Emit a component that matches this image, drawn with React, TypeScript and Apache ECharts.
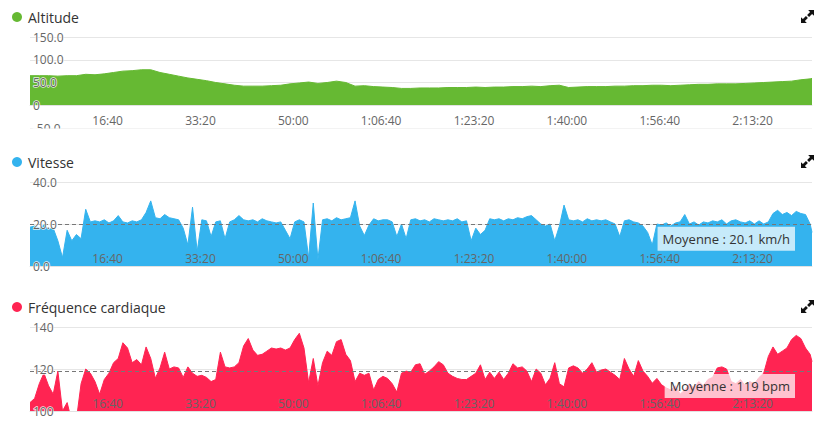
import React, { useEffect, useRef } from "react";
import * as echarts from "echarts";

// ---------- data ----------
const xMax = 8420; // seconds
const timeTickLabels = ["16:40", "33:20", "50:00", "1:06:40", "1:23:20", "1:40:00", "1:56:40", "2:13:20"];

const altitudeTickValues = [-50, 0, 50, 100, 150];
const altitudeTickLabels = ["-50.0", "0", "50.0", "100.0", "150.0"];
const speedTickValues = [0, 20, 40];
const speedTickLabels = ["0.0", "20.0", "40.0"];
const heartTickValues = [100, 120, 140];
const heartTickLabels = ["100", "120", "140"];

const altitudeStep = 100;
const altitudeValues = [
  65, 65, 65, 64, 65, 65, 68, 67, 69, 72,
  75, 76, 78, 78, 72, 68, 64, 60, 57, 54,
  50, 47, 44, 42, 42, 42, 43, 44, 47, 49,
  51, 48, 50, 53, 50, 42, 43, 41, 40, 39,
  37, 37, 38, 38, 38, 39, 39, 39, 40, 39,
  40, 40, 41, 41, 42, 41, 43, 44, 39, 40,
  41, 41, 41, 42, 42, 43, 43, 44, 44, 43,
  44, 45, 46, 46, 47, 47, 47, 48, 49, 50,
  51, 52, 53, 56, 58, 59,
];

const sampleStep = 50;
const speedValues = [
  18.5, 19, 18, 19.5, 17.5, 18, 12, 4, 17, 12,
  15, 13, 27, 21, 21.5, 21, 22, 20.5, 21.5, 24,
  21, 20.5, 21.5, 21, 22, 25.5, 31, 23, 22.5, 24.5,
  23, 22.5, 22, 18, 10, 28, 7, 22, 21.5, 14,
  21, 21.5, 13, 21, 22, 24, 22, 21.5, 22, 21,
  22.5, 21.5, 21, 20.5, 21, 17, 13, 21, 22, 21,
  4, 30, 3, 22, 22.5, 21.5, 23, 22, 22.5, 23,
  31, 19, 14.5, 19.5, 22.5, 21.5, 22, 22, 21, 14,
  20, 13, 22, 22.5, 21.5, 22, 21, 22.5, 22, 21.5,
  22, 21.5, 22.5, 21, 21.5, 12, 18, 15, 17, 22.5,
  22, 22.5, 21.5, 22.5, 22, 23, 22.5, 23.5, 24, 22,
  20, 19, 20, 12, 19, 29, 22, 21.5, 22, 21,
  22.5, 21.5, 22, 21.5, 22, 21, 20, 14, 21.5, 22,
  21, 20.5, 19, 16, 10, 20, 19.5, 20.5, 19, 20.5,
  21, 24.5, 20, 21, 19.5, 21, 20.5, 21.5, 21, 22,
  20, 21.5, 22, 21, 20.5, 21.5, 20, 21.5, 20, 21,
  25, 26.5, 24.5, 25.5, 24, 26, 25, 24.5, 20, 16,
];
const speedAverage = 20.1;

const heartValues = [
  104, 106, 113, 118, 112, 108, 119, 100, 104, 95,
  96, 113, 120, 118, 114, 108, 115, 118, 123, 125,
  132.5, 130, 123, 124.5, 122, 130.5, 125, 115.6, 120.5, 128,
  120, 121, 120.5, 116, 121, 118, 116.5, 117, 116, 114,
  115, 128, 121, 120.5, 121, 123, 131, 134.5, 129, 126.5,
  127, 128.5, 130, 129.5, 130, 129, 130, 134, 137, 130,
  113.5, 125, 112, 123, 128.5, 126.5, 133, 134, 127, 124,
  114, 118, 117, 118, 110, 115, 116.5, 115.5, 113, 109,
  118, 119, 118.5, 122, 122.5, 117.5, 119, 121, 123.5, 122,
  118, 116.5, 115.5, 115, 115, 116.5, 118, 122, 115, 118.5,
  115.5, 118.5, 115, 118, 122.5, 120.5, 121, 119, 114, 120,
  118, 112.5, 115.6, 123, 113, 111.5, 120.5, 121.5, 120.5, 118,
  120, 123, 118.5, 119.5, 120, 118.5, 117, 115, 125, 120,
  116.5, 124, 119, 116.5, 113.2, 115.5, 112.5, 111, 110, 112,
  108, 110, 113, 111, 114, 112, 115, 116, 120.5, 121,
  120, 114, 113, 115, 112, 114, 113, 116, 118, 126,
  130.5, 127, 128.5, 130, 134, 136, 134.5, 130, 127, 123.5,
];
const heartAverage = 119;

// ---------- styles ----------
const altitudeColor = "#66b933";
const speedColor = "#34b3ee";
const heartColor = "#ff2452";
const FONT = "'Open Sans', sans-serif";

const iconPath =
  "M5.5 0 L10 0 L10 4.5 L8.5 3 L6.2 5.3 L4.7 3.8 L7 1.5 Z M4.5 10 L0 10 L0 5.5 L1.5 7 L3.8 4.7 L5.3 6.2 L3 8.5 Z";
echarts.graphic.registerShape("expandIcon", echarts.graphic.extendPath(iconPath, {}));

const toPairs = (values: number[], step: number) =>
  values.map((v, i) => [Math.min(i * step, xMax), v]);

const labelMap = (vals: number[], labels: string[]) => {
  const m: Record<string, string> = {};
  vals.forEach((v, i) => (m[String(v)] = labels[i]));
  return (v: number) => m[String(v)] ?? "";
};

export default function App() {
  const ref = useRef<HTMLDivElement>(null);

  useEffect(() => {
    if (!ref.current) return;
    const chart = echarts.init(ref.current, undefined, { renderer: "svg" });

    const grids = [
      { left: 30, right: 10, top: 37, height: 91 },
      { left: 30, right: 10, top: 182, height: 84 },
      { left: 30, right: 10, top: 327, height: 84 },
    ];
    const yDefs = [
      { min: -50, max: 150, interval: 50, fmt: labelMap(altitudeTickValues, altitudeTickLabels) },
      { min: 0, max: 40, interval: 20, fmt: labelMap(speedTickValues, speedTickLabels) },
      { min: 100, max: 140, interval: 20, fmt: labelMap(heartTickValues, heartTickLabels) },
    ];

    const xAxis = grids.map((_, i) => ({
      gridIndex: i,
      type: "value",
      min: 0,
      max: xMax,
      interval: 1000,
      z: 10,
      axisLine: { show: true, lineStyle: { color: "#e2e2e2", width: 1 } },
      axisTick: { show: false },
      splitLine: { show: false },
      axisLabel: {
        inside: true,
        margin: 2,
        align: "right",
        color: "#666",
        fontFamily: FONT,
        fontSize: 12,
        showMinLabel: false,
        showMaxLabel: false,
        formatter: (v: number) => timeTickLabels[Math.round(v / 1000) - 1] ?? "",
      },
    }));

    const yAxis: any[] = [];
    yDefs.forEach((d, i) => {
      yAxis.push({
        gridIndex: i,
        type: "value",
        position: "left",
        min: d.min,
        max: d.max,
        interval: d.interval,
        z: 0,
        axisLine: { show: false },
        axisTick: { show: false },
        axisLabel: { show: false },
        splitLine: { show: true, lineStyle: { color: "#e6e6e6", width: 1 } },
      });
      yAxis.push({
        gridIndex: i,
        type: "value",
        position: "left",
        min: d.min,
        max: d.max,
        interval: d.interval,
        z: 10,
        axisLine: { show: false },
        axisTick: { show: false },
        splitLine: { show: false },
        axisLabel: {
          inside: true,
          margin: 3,
          color: "#666",
          fontFamily: FONT,
          fontSize: 12,
          textBorderColor: "rgba(255,255,255,0.85)",
          textBorderWidth: 1.5,
          formatter: d.fmt,
        },
      });
    });

    const avgLine = (value: number, text: string) => ({
      silent: true,
      symbol: ["none", "none"],
      lineStyle: { color: "#777", type: [4, 3], width: 1 },
      data: [{ yAxis: value }],
      label: {
        show: true,
        position: "insideEndBottom",
        formatter: text,
        color: "#333",
        fontFamily: FONT,
        fontSize: 13,
        lineHeight: 16,
        backgroundColor: "rgba(255,255,255,0.72)",
        padding: [4, 5, 4, 5],
        distance: [17, 3],
      },
    });

    const mkSeries = (idx: number, color: string, data: number[][], markLine?: any) => ({
      type: "line",
      xAxisIndex: idx,
      yAxisIndex: idx * 2,
      data,
      symbol: "none",
      showSymbol: false,
      z: 2,
      lineStyle: { color, width: 1 },
      itemStyle: { color },
      areaStyle: { color, opacity: 1 },
      clip: true,
      markLine,
    });

    const titles = [
      { text: "Altitude", color: altitudeColor, y: 17, iconY: 10 },
      { text: "Vitesse", color: speedColor, y: 162, iconY: 155 },
      { text: "Fréquence cardiaque", color: heartColor, y: 307, iconY: 300 },
    ];
    const graphicElements: any[] = [
      { type: "rect", shape: { x: 0, y: 128.5, width: 822, height: 14 }, style: { fill: "#fff" }, z: 100 },
    ];
    titles.forEach((t) => {
      graphicElements.push({ type: "circle", shape: { cx: 17, cy: t.y, r: 5 }, style: { fill: t.color }, z: 100 });
      graphicElements.push({
        type: "text",
        x: 28,
        y: t.y,
        style: { text: t.text, fill: "#333", font: `14px ${FONT}`, verticalAlign: "middle", align: "left" },
        z: 100,
      });
      graphicElements.push({
        type: "expandIcon",
        x: 801,
        y: t.iconY,
        scaleX: 1.3,
        scaleY: 1.3,
        style: { fill: "#111" },
        z: 100,
      });
    });

    chart.setOption({
      animation: false,
      backgroundColor: "#fff",
      grid: grids,
      xAxis,
      yAxis,
      series: [
        mkSeries(0, altitudeColor, toPairs(altitudeValues, altitudeStep)),
        mkSeries(1, speedColor, toPairs(speedValues, sampleStep), avgLine(speedAverage, `Moyenne : ${speedAverage.toFixed(1)} km/h`)),
        mkSeries(2, heartColor, toPairs(heartValues, sampleStep), avgLine(heartAverage, `Moyenne : ${heartAverage} bpm`)),
      ],
      graphic: { elements: graphicElements },
    });

    return () => chart.dispose();
  }, []);

  return (
    <div
      ref={ref}
      style={{ position: "fixed", left: 0, top: 0, width: 822, height: 435, background: "#fff" }}
    />
  );
}
